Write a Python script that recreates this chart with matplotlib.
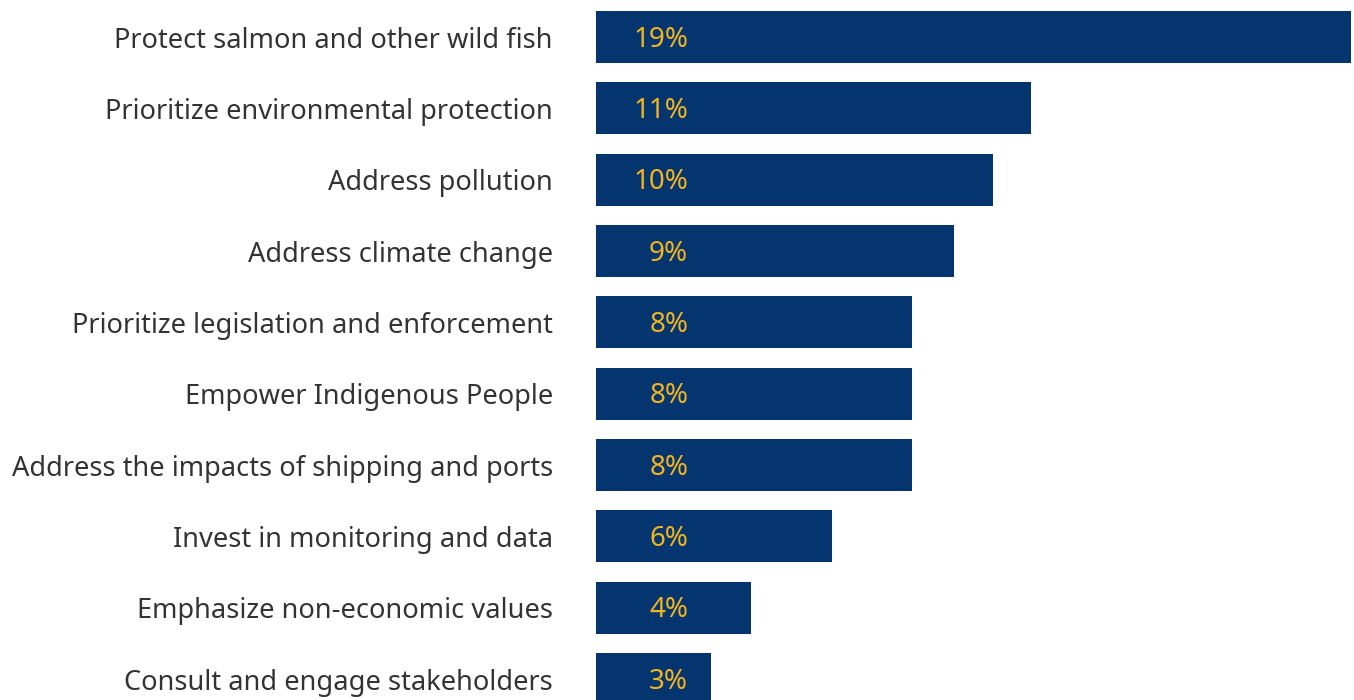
import matplotlib.pyplot as plt

plt.rcParams['font.family'] = ['Noto Sans', 'DejaVu Sans']

categories = [
    "Protect salmon and other wild fish",
    "Prioritize environmental protection",
    "Address pollution",
    "Address climate change",
    "Prioritize legislation and enforcement",
    "Empower Indigenous People",
    "Address the impacts of shipping and ports",
    "Invest in monitoring and data",
    "Emphasize non-economic values",
    "Consult and engage stakeholders",
]
shares = [19.0, 10.95, 10.0, 9.0, 7.95, 7.95, 7.95, 5.95, 3.9, 2.9]

bar_color = "#05356f"
value_color = "#f2b51e"
text_color = "#333333"

fig = plt.figure(figsize=(13.54, 7.0), dpi=100)
ax = fig.add_axes([596 / 1354, 0.0, 758 / 1354, 1.0])

ypos = list(range(len(categories)))
ax.barh(ypos, shares, height=0.73, color=bar_color)

# percentage labels sit near the left end of each bar
for y, v in zip(ypos, shares):
    ax.text(2.32, y - 0.01, f"{v:.0f}%", ha="right", va="center_baseline",
            fontsize=20, color=value_color)

ax.set_xlim(0, 19.0 * 758 / 755)
ax.set_ylim(9.294, -0.519)
ax.set_yticks(ypos)
ax.set_yticklabels(categories, fontsize=19.6, color=text_color)
ax.tick_params(axis="y", length=0, pad=31)
ax.set_xticks([])
for side in ax.spines.values():
    side.set_visible(False)

fig.savefig("out.png", dpi=100)
